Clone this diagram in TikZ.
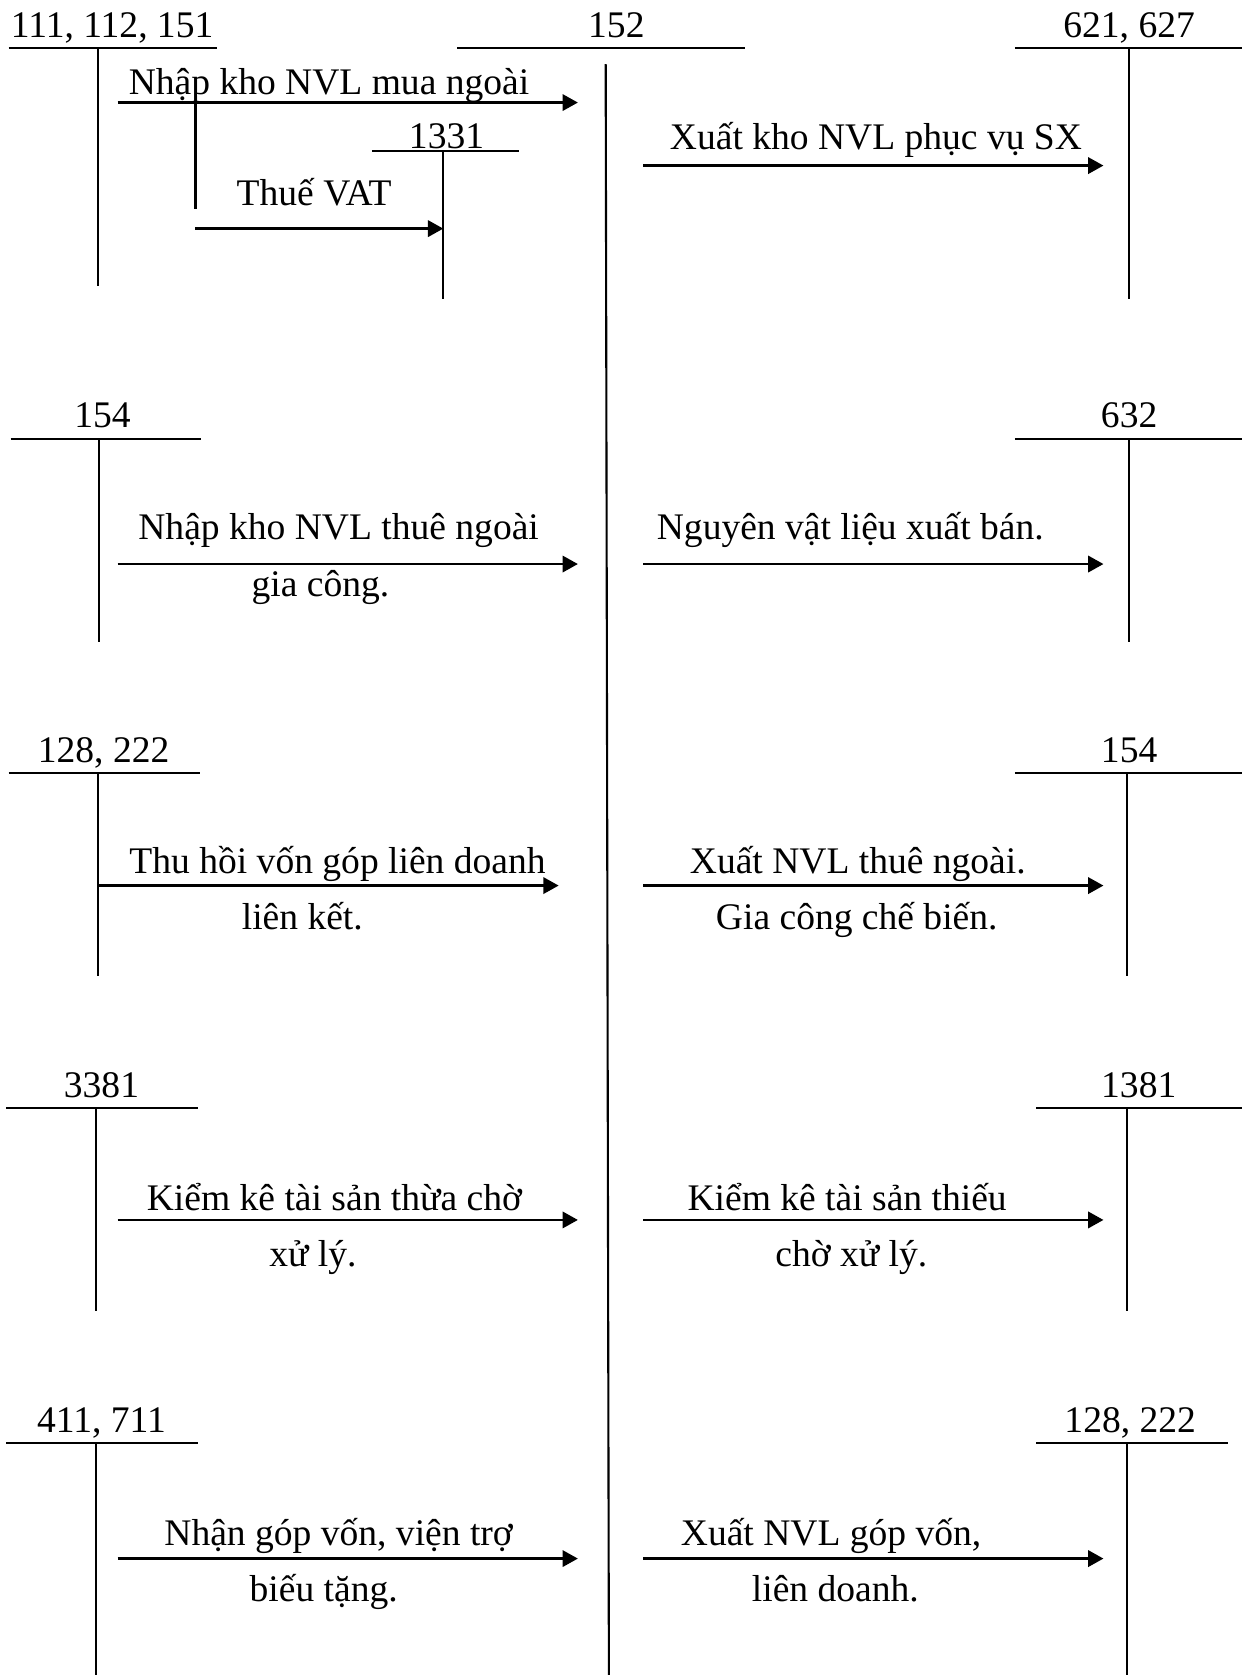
\documentclass[tikz,border=0pt]{standalone}
\usepackage{fontspec}
\setmainfont{Liberation Serif}
\usetikzlibrary{arrows.meta}
\tikzset{
  tline/.style={line width=1.4pt},
  flow/.style={line width=1.9pt,-{Triangle[length=0.36cm,width=0.38cm]}},
  acct/.style={anchor=base,inner sep=0pt,font=\fontsize{25}{29}\selectfont},
  lbl/.style={anchor=base,inner sep=0pt,font=\fontsize{25}{29}\selectfont},
}
\begin{document}
\begin{tikzpicture}[x=0.025cm,y=-0.025cm]
  \useasboundingbox (0,0) rectangle (1169,1568);
  % central account 152
  \node[acct] (k152) at (577,35) {152};
  \draw[tline] (428,45) -- (697,45);
  \coordinate (c152t) at (567,60);
  \coordinate (c152b) at (570,1568);
  \draw[tline] (c152t) -- (c152b);
  % left side accounts
  \node[acct] (k111) at (105,35) {111, 112, 151};
  \draw[tline] (8,45) -- (203,45) (92,45) -- (92,268);
  \node[acct] (k1331) at (418,139) {1331};
  \draw[tline] (348,141) -- (486,141) (415,141) -- (415,280);
  \node[acct] (k154l) at (96,400) {154};
  \draw[tline] (10,411) -- (188,411) (93,411) -- (93,601);
  \node[acct] (k128l) at (97,714) {128, 222};
  \draw[tline] (8,724) -- (187,724) (92,724) -- (92,914);
  \node[acct] (k3381) at (95,1027) {3381};
  \draw[tline] (6,1037) -- (185,1037) (90,1037) -- (90,1227);
  \node[acct] (k411) at (95,1341) {411, 711};
  \draw[tline] (6,1351) -- (185,1351) (90,1351) -- (90,1568);
  % right side accounts
  \node[acct] (k621) at (1057,35) {621, 627};
  \draw[tline] (950,45) -- (1163,45) (1057,45) -- (1057,280);
  \node[acct] (k632) at (1057,400) {632};
  \draw[tline] (950,411) -- (1163,411) (1057,411) -- (1057,601);
  \node[acct] (k154r) at (1057,714) {154};
  \draw[tline] (950,724) -- (1163,724) (1055,724) -- (1055,914);
  \node[acct] (k1381) at (1066,1027) {1381};
  \draw[tline] (970,1037) -- (1163,1037) (1055,1037) -- (1055,1227);
  \node[acct] (k128r) at (1058,1341) {128, 222};
  \draw[tline] (970,1351) -- (1150,1351) (1055,1351) -- (1055,1568);

  % entries into 152
  \coordinate (s1) at (110,96);  \coordinate (e1) at (541,96);
  \draw[flow] (s1) -- (e1);
  \node[lbl] (t1) at (308,88) {Nhập kho NVL mua ngoài};
  \coordinate (v1t) at (183,96); \coordinate (v1b) at (183,196);
  \draw[tline] (v1t) -- (v1b);
  \coordinate (e1v) at (415,214);
  \draw[flow] (183,214) -- (e1v);
  \node[lbl] (t1v) at (294,192) {Thuế VAT};

  \coordinate (s2) at (110,528); \coordinate (e2) at (541,528);
  \draw[flow] (s2) -- (e2);
  \node[lbl] (t2) at (317,505) {Nhập kho NVL thuê ngoài};
  \node[lbl] (t2b) at (300,558) {gia công.};

  \coordinate (s3) at (92,829); \coordinate (e3) at (523,829);
  \draw[flow] (s3) -- (e3);
  \node[lbl] (t3) at (316,818) {Thu hồi vốn góp liên doanh};
  \node[lbl] (t3b) at (283,870) {liên kết.};

  \coordinate (s4) at (110,1142); \coordinate (e4) at (541,1142);
  \draw[flow] (s4) -- (e4);
  \node[lbl] (t4) at (313,1133) {Kiểm kê tài sản thừa chờ};
  \node[lbl] (t4b) at (293,1186) {xử lý.};

  \coordinate (s5) at (110,1459); \coordinate (e5) at (541,1459);
  \draw[flow] (s5) -- (e5);
  \node[lbl] (t5) at (317,1447) {Nhận góp vốn, viện trợ};
  \node[lbl] (t5b) at (303,1499) {biếu tặng.};

  % entries out of 152
  \coordinate (r1s) at (602,155); \coordinate (r1e) at (1033,155);
  \draw[flow] (r1s) -- (r1e);
  \node[lbl] (u1) at (820,140) {Xuất kho NVL phục vụ SX};

  \coordinate (r2s) at (602,528); \coordinate (r2e) at (1033,528);
  \draw[flow] (r2s) -- (r2e);
  \node[lbl] (u2) at (796,505) {Nguyên vật liệu xuất bán.};

  \coordinate (r3s) at (602,829); \coordinate (r3e) at (1033,829);
  \draw[flow] (r3s) -- (r3e);
  \node[lbl] (u3) at (803,818) {Xuất NVL thuê ngoài.};
  \node[lbl] (u3b) at (802,870) {Gia công chế biến.};

  \coordinate (r4s) at (602,1142); \coordinate (r4e) at (1033,1142);
  \draw[flow] (r4s) -- (r4e);
  \node[lbl] (u4) at (793,1133) {Kiểm kê tài sản thiếu};
  \node[lbl] (u4b) at (797,1186) {chờ xử lý.};

  \coordinate (r5s) at (602,1459); \coordinate (r5e) at (1033,1459);
  \draw[flow] (r5s) -- (r5e);
  \node[lbl] (u5) at (778,1447) {Xuất NVL góp vốn,};
  \node[lbl] (u5b) at (782,1499) {liên doanh.};
\end{tikzpicture}
\end{document}
